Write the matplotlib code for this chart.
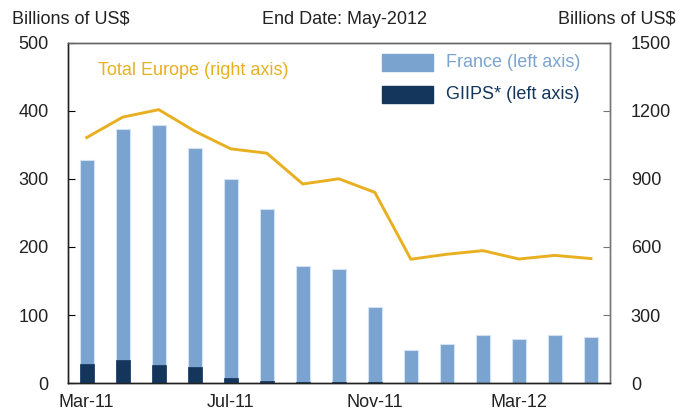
import matplotlib
matplotlib.use("Agg")
import matplotlib.pyplot as plt
from matplotlib.patches import Rectangle

plt.rcParams['font.family'] = ['Liberation Sans', 'DejaVu Sans']

months = ["Mar-11", "Apr-11", "May-11", "Jun-11", "Jul-11", "Aug-11", "Sep-11", "Oct-11",
          "Nov-11", "Dec-11", "Jan-12", "Feb-12", "Mar-12", "Apr-12", "May-12"]
france = [328, 374, 379, 346, 300, 256, 172, 167, 112, 49, 58, 70, 64, 71, 67]
giips = [28, 34, 27, 24, 8, 2.5, 1.5, 1.5, 0.8, 0.4, 0.4, 0.4, 0.4, 0.4, 0.4]
total_europe = [1083, 1173, 1206, 1111, 1033, 1014, 878, 901, 841, 546, 568, 584, 547, 563, 549]
tick_labels = ["Mar-11", "Jul-11", "Nov-11", "Mar-12"]
tick_idx = [0, 4, 8, 12]

c_fr = '#7BA3CF'
c_gi = '#14365D'
c_line = '#E8B020'
c_text = '#222222'
fs = 13

fig = plt.figure(figsize=(6.8, 4.17), dpi=100)
ax = fig.add_axes([68/680, 1-383/417, 542/680, 340/417])
x = list(range(len(months)))
ax.bar(x, france, width=0.4, color=c_fr, edgecolor='#d3e1f0', linewidth=0.8, zorder=2)
ax.bar(x, giips, width=0.4, color=c_gi, edgecolor=c_gi, linewidth=0.5, zorder=3)
ax.set_ylim(0, 500)
ax.set_xlim(-0.52, 14.53)
ax.set_yticks([0, 100, 200, 300, 400, 500])
ax.set_xticks(tick_idx)
ax.set_xticklabels(tick_labels)
ax.tick_params(axis='x', length=0, pad=8, labelsize=fs, labelcolor=c_text)
ax.tick_params(axis='y', direction='in', length=5, pad=14, labelsize=fs, labelcolor=c_text)

ax2 = ax.twinx()
ax2.plot(x, total_europe, color=c_line, linewidth=2.1, zorder=4)
ax2.set_ylim(0, 1500)
ax2.set_yticks([0, 300, 600, 900, 1200, 1500])
ax2.tick_params(axis='y', direction='in', length=5, pad=15, labelsize=fs, labelcolor=c_text, color='#777777')

for a in (ax, ax2):
    a.spines['left'].set_color('#222222')
    a.spines['bottom'].set_color('#222222')
    a.spines['top'].set_color('#666666')
    a.spines['right'].set_color('#777777')
    for s in a.spines.values():
        s.set_linewidth(1.0)

# legend drawn manually
ax.add_patch(Rectangle((0.579, 0.919), 0.094, 0.049, transform=ax.transAxes,
                       color=c_fr, zorder=5, clip_on=False))
ax.add_patch(Rectangle((0.579, 0.824), 0.094, 0.049, transform=ax.transAxes,
                       color=c_gi, zorder=5, clip_on=False))
ax.text(0.697, 0.943, "France (left axis)", transform=ax.transAxes, color=c_fr,
        fontsize=fs, va='center', ha='left')
ax.text(0.697, 0.849, "GIIPS* (left axis)", transform=ax.transAxes, color=c_gi,
        fontsize=fs, va='center', ha='left')
ax.text(0.055, 0.92, "Total Europe (right axis)", transform=ax.transAxes, color=c_line,
        fontsize=fs, va='center', ha='left')

fig.text(12/680, 1-19/417, "Billions of US$", fontsize=fs, color=c_text, va='center', ha='left')
fig.text(345/680, 1-19/417, "End Date: May-2012", fontsize=fs, color=c_text, va='center', ha='center')
fig.text(676/680, 1-19/417, "Billions of US$", fontsize=fs, color=c_text, va='center', ha='right')

fig.savefig("out.png", dpi=100)
